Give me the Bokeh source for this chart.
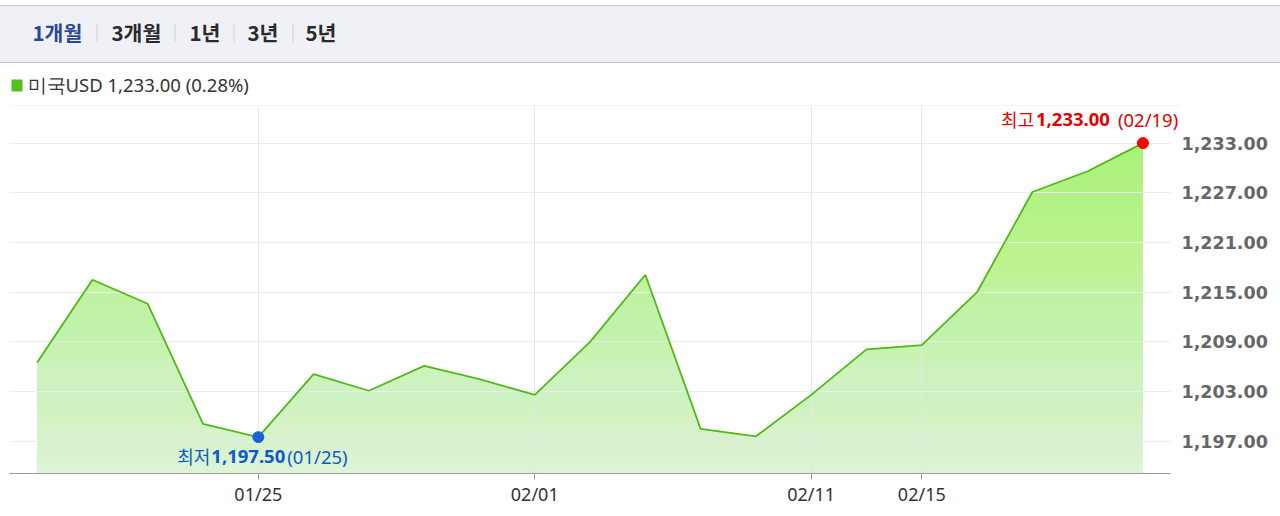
import numpy as np
from bokeh.plotting import figure
from bokeh.layouts import column
from bokeh.models import Range1d, FixedTicker, NumeralTickFormatter, Label, Span
from bokeh.embed import file_html
from bokeh.resources import INLINE
from bokeh.core.properties import value

# ---------------- data ----------------
tabs = ["1개월", "3개월", "1년", "3년", "5년"]
series_name = "미국USD"
last_value = 1233.00
change_pct = 0.28
values = [1206.5, 1216.5, 1213.6, 1199.1, 1197.5, 1205.1, 1203.1, 1206.1, 1204.5,
          1202.6, 1209.0, 1217.1, 1198.5, 1197.6, 1202.6, 1208.1, 1208.6, 1215.0,
          1227.1, 1229.6, 1233.0]
tick_idx = [4, 9, 14, 16]
tick_labels = ["01/25", "02/01", "02/11", "02/15"]
max_date = "02/19"
min_date = "01/25"
y_ticks = [1197, 1203, 1209, 1215, 1221, 1227, 1233]

W = 1280
FL, FR = 9, 1180            # frame left / right (page px)
Y0, Y1 = 1193.11, 1237.54
n = len(values)
X0 = -0.5
X_LAST = n - 0.5
X1 = X0 + (FR - FL) / 55.29

BAR_BG = "#eff1f6"
BAR_LINE = "#c3c7d1"


def strip(h, top, color=None):
    """Header strip figure whose data coords equal page px."""
    kw = {}
    if color is not None:
        kw["styles"] = {"background-color": color}
    f = figure(width=W, height=h, x_range=Range1d(FL, FR), y_range=Range1d(top + h, top),
               toolbar_location=None, output_backend="svg",
               min_border_left=FL, min_border_right=W - FR, min_border_top=0, min_border_bottom=0,
               x_axis_location=None, y_axis_location=None, outline_line_color=None, **kw)
    f.grid.grid_line_color = None
    if color is not None:
        f.border_fill_color = color
        f.background_fill_color = color
        f.quad(left=FL, right=FR, top=top, bottom=top + h, fill_color=color, line_color=None)
    return f

# ---------------- header ----------------
spacer = strip(5, 0)
line_top = strip(1, 5, BAR_LINE)
tabs_fig = strip(56, 6, BAR_BG)
tab_x = [32, 111, 189, 247, 305]
tab_colors = ["#2b4795", "#2a2a2a", "#2a2a2a", "#2a2a2a", "#2a2a2a"]
tabs_fig.text(x=tab_x, y=[31] * len(tabs), text=tabs, text_font=value("Noto Sans CJK KR"),
              text_font_style="bold", text_font_size="20.5px", text_color=tab_colors,
              text_baseline="middle", text_align="left")
sep_x = [96.5, 174.5, 233.5, 292.5]
tabs_fig.segment(x0=sep_x, x1=sep_x, y0=[23] * 4, y1=[42] * 4, line_color="#cfd2d9", line_width=1)
line_bot = strip(1, 62, BAR_LINE)

legend_fig = strip(35, 63)
legend_fig.quad(left=11, right=22, top=79, bottom=91, fill_color="#55c01c", line_color=None)
legend_text = f"{series_name} {last_value:,.2f} ({change_pct:.2f}%)"
legend_fig.text(x=[27], y=[83.5], text=[legend_text], text_font=value("Noto Sans"),
                text_font_size="18.5px", text_color="#333333", text_baseline="middle",
                text_align="left")

# ---------------- main chart ----------------
p = figure(width=W, height=410, x_range=Range1d(X0, X1), y_range=Range1d(Y0, Y1),
           y_axis_location="right", toolbar_location=None, output_backend="svg",
           min_border_left=FL, min_border_right=W - FR, min_border_top=7, min_border_bottom=34,
           outline_line_color=None)

x = list(range(n))
vmax = max(values)
vmin = min(values)
i_max = values.index(vmax)
i_min = values.index(vmin)

# area fill (green) with white gradient overlay (nested layers)
p.varea(x=x, y1=Y0, y2=values, fill_color="#a9f274", level="image")
N = 60
tops = np.linspace(Y0, vmax, N + 1)[1:]
whiteness = 0.86 * (1 - (np.arange(1, N + 1) - 0.5) / N)
T = 1 - whiteness
T_next = np.append(T[1:], 1.0)
alphas = 1 - T / T_next
p.quad(left=X0, right=X_LAST, bottom=Y0, top=tops, fill_color="white", fill_alpha=alphas,
       line_color=None, level="image")

p.line(x=x, y=values, line_color="#4fba17", line_width=1.8)
p.scatter(x=[i_max], y=[vmax], size=11, fill_color="#ff0000", line_color="#ff0000")
p.scatter(x=[i_min], y=[vmin], size=11, fill_color="#1862d6", line_color="#1862d6")

# grid
p.ygrid.grid_line_color = "#ececec"
p.xgrid.grid_line_color = "#e6e6e6"
if hasattr(p.ygrid[0], "cross_bounds"):
    p.ygrid[0].cross_bounds = (X0, X_LAST)
p.add_layout(Span(location=Y1, dimension="width", line_color="#ececec", line_width=1))

# axes
p.yaxis.ticker = FixedTicker(ticks=y_ticks)
p.yaxis.formatter = NumeralTickFormatter(format="0,0.00")
p.yaxis.axis_line_color = None
p.yaxis.major_tick_line_color = None
p.yaxis.minor_tick_line_color = None
p.yaxis.major_tick_out = 0
p.yaxis.major_label_standoff = 1
p.yaxis.major_label_text_font = "DejaVu Sans"
p.yaxis.major_label_text_font_style = "bold"
p.yaxis.major_label_text_font_size = "17.5px"
p.yaxis.major_label_text_color = "#666666"

p.xaxis.ticker = FixedTicker(ticks=tick_idx)
p.xaxis.major_label_overrides = {t: l for t, l in zip(tick_idx, tick_labels)}
p.xaxis.bounds = (X0, X_LAST)
p.xaxis.axis_line_color = "#999999"
p.xaxis.major_tick_line_color = "#999999"
p.xaxis.minor_tick_line_color = None
p.xaxis.major_tick_out = 6
p.xaxis.major_tick_in = 0
p.xaxis.major_label_standoff = 2
p.xaxis.major_label_text_font = "Noto Sans"
p.xaxis.major_label_text_font_size = "18px"
p.xaxis.major_label_text_color = "#333333"

# annotations
RED = "#e60000"
BLUE = "#0d5bc6"
def add_parts(xi, yi, parts, yoff, color):
    for txt, xoff, font, style, size in parts:
        p.add_layout(Label(x=xi, y=yi, x_offset=xoff, y_offset=yoff, text=txt,
                           text_font=font, text_font_style=style, text_font_size=size,
                           text_color=color, text_baseline="middle", text_align="left"))

add_parts(i_max, vmax, [
    ("최고", -142, "Noto Sans CJK KR", "normal", "18px"),
    (f"{vmax:,.2f}", -107, "Noto Sans", "bold", "18.5px"),
    (f"({max_date})", -25, "Noto Sans", "normal", "18.5px"),
], 24, RED)
add_parts(i_min, vmin, [
    ("최저", -81, "Noto Sans CJK KR", "normal", "18px"),
    (f"{vmin:,.2f}", -47, "Noto Sans", "bold", "18.5px"),
    (f"({min_date})", 29, "Noto Sans", "normal", "18.5px"),
], -19, BLUE)

layout = column(spacer, line_top, tabs_fig, line_bot, legend_fig, p)
open("out.html", "w").write(file_html(layout, INLINE))
